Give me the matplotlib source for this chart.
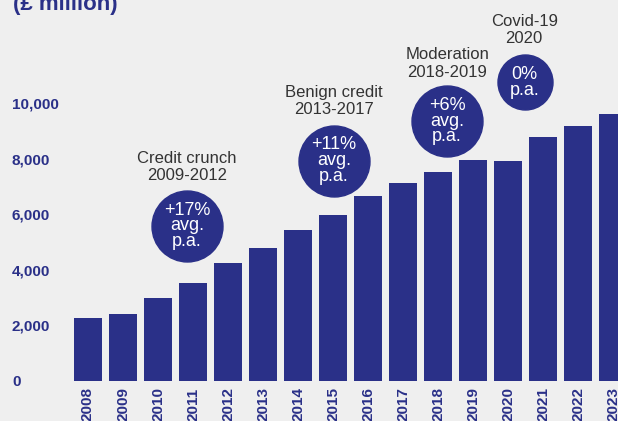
import matplotlib
matplotlib.use('Agg')
import matplotlib.pyplot as plt

years = ['2008', '2009', '2010', '2011', '2012', '2013', '2014', '2015',
         '2016', '2017', '2018', '2019', '2020', '2021', '2022', '2023']
values = [2260, 2400, 2980, 3520, 4240, 4790, 5430, 5970,
          6650, 7120, 7520, 7950, 7920, 8760, 9180, 9610]
y_ticks = [0, 2000, 4000, 6000, 8000, 10000]
y_tick_labels = ['0', '2,000', '4,000', '6,000', '8,000', '10,000']

periods = ['Credit crunch\n2009-2012', 'Benign credit\n2013-2017',
           'Moderation\n2018-2019', 'Covid-19\n2020']
growth = ['+17%\navg.\np.a.', '+11%\navg.\np.a.', '+6%\navg.\np.a.', '0%\np.a.']

navy = '#2a3088'
bg = '#efefef'

plt.rcParams['font.family'] = ['Liberation Sans', 'DejaVu Sans']

fig = plt.figure(figsize=(6.18, 4.21), dpi=100, facecolor=bg)
ax = fig.add_axes([70 / 618, (421 - 380.5) / 421, 548 / 618, 380.5 / 421])
ax.set_facecolor(bg)

x = list(range(len(years)))
ax.bar(x, values, width=0.8, color=navy, zorder=2)

ax.set_xlim(-0.514, 15.14)
ax.set_ylim(0, 13712)
ax.set_xticks(x)
ax.set_xticklabels(years, rotation=90, fontsize=11, fontweight='bold', color=navy, va='top')
ax.set_yticks(y_ticks)
ax.set_yticklabels(y_tick_labels, fontsize=11, fontweight='bold', color=navy, ha='left')
ax.tick_params(axis='x', length=0, pad=5)
ax.tick_params(axis='y', length=0, pad=41.8)
for s in ax.spines.values():
    s.set_visible(False)

# period labels and growth bubbles
label_pos = [(2.83, 7694), (7.03, 10072), (10.27, 11423), (12.46, 12631)]
bubble_pos = [(2.83, 5568), (7.03, 7928), (10.26, 9351), (12.47, 10739)]
bubble_size = [2611, 2611, 2611, 1568]

for i in range(len(periods)):
    ax.text(label_pos[i][0], label_pos[i][1], periods[i], ha='center', va='center',
            fontsize=12, color='#333333', linespacing=1.2, zorder=3)
    ax.scatter(bubble_pos[i][0], bubble_pos[i][1], s=bubble_size[i], color=navy,
               zorder=3, clip_on=False)
    ax.text(bubble_pos[i][0], bubble_pos[i][1], growth[i], ha='center', va='center',
            fontsize=13, color='white', linespacing=0.9, zorder=4)

fig.text(13 / 618, 1 - 10 / 421, '(£ million)', fontsize=16, fontweight='bold',
         color=navy, ha='left', va='baseline')

fig.savefig('out.png', dpi=100, facecolor=bg)
